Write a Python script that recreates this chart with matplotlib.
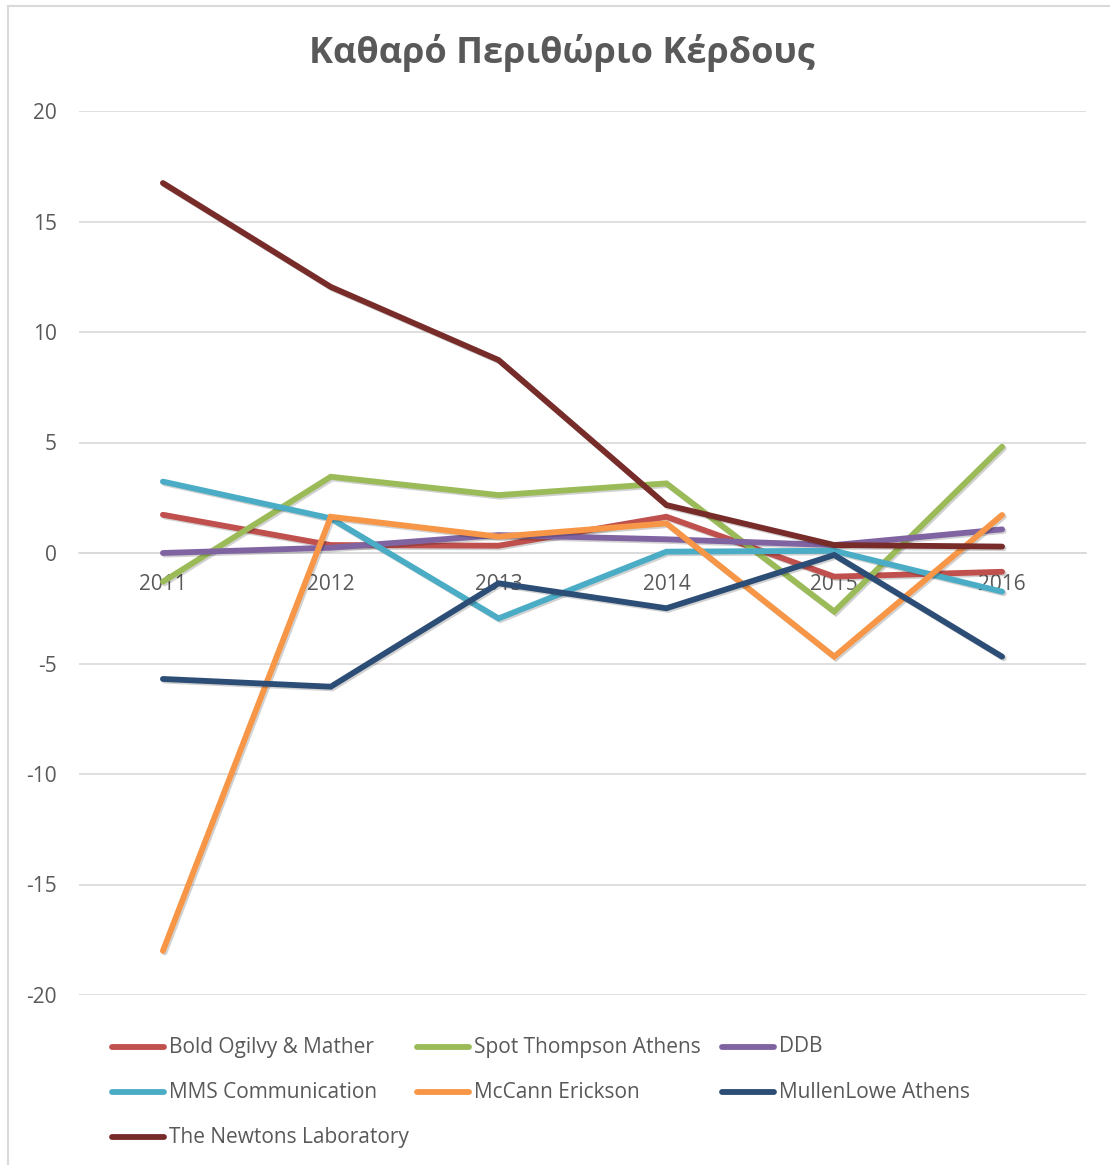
import matplotlib
matplotlib.use("Agg")
import matplotlib.pyplot as plt
from matplotlib.lines import Line2D
import matplotlib.patheffects as pe

plt.rcParams['font.family'] = ['Open Sans', 'DejaVu Sans']
plt.rcParams['axes.unicode_minus'] = False

years = ['2011', '2012', '2013', '2014', '2015', '2016']

bold_ogilvy = [1.73, 0.36, 0.33, 1.64, -1.07, -0.85]
spot_thompson = [-1.3, 3.45, 2.62, 3.15, -2.65, 4.81]
ddb = [0.0, 0.24, 0.81, 0.62, 0.36, 1.07]
mms = [3.23, 1.57, -2.96, 0.06, 0.1, -1.75]
mccann = [-18.0, 1.64, 0.74, 1.34, -4.69, 1.72]
mullenlowe = [-5.7, -6.05, -1.37, -2.5, -0.09, -4.69]
newtons = [16.74, 12.04, 8.73, 2.17, 0.36, 0.29]

names = ['Bold Ogilvy & Mather', 'Spot Thompson Athens', 'DDB',
         'MMS Communication', 'McCann Erickson', 'MullenLowe Athens',
         'The Newtons Laboratory']
series = [bold_ogilvy, spot_thompson, ddb, mms, mccann, mullenlowe, newtons]
colors = ['#C0504D', '#9BBB59', '#8064A2', '#4BACC6', '#F79646',
          '#2C4D75', '#772C2A']

TXT = '#595959'
GRID = '#D9D9D9'
W, H = 1110, 1165

fig = plt.figure(figsize=(W / 100, H / 100), dpi=100)
ax = fig.add_axes([79 / W, 1 - 995 / H, (1086 - 79) / W, (995 - 111) / H])

shadow = [pe.SimpleLineShadow(offset=(1.2, -1.2), shadow_color='black', alpha=0.18),
          pe.Normal()]
x = list(range(len(years)))
for vals, c in zip(series, colors):
    ax.plot(x, vals, color=c, lw=4.2, solid_capstyle='round',
            solid_joinstyle='miter', path_effects=shadow, zorder=3)

ax.set_xlim(-0.5, len(years) - 0.5)
ax.set_ylim(-20, 20)
ax.set_yticks(range(-20, 21, 5))
ax.set_xticks(x)
ax.set_xticklabels(years)
ax.set_axisbelow(True)
ax.grid(axis='y', color=GRID, lw=1.2)
for s in ['top', 'right', 'left']:
    ax.spines[s].set_visible(False)
ax.spines['bottom'].set_position(('data', 0))
ax.spines['bottom'].set_color(GRID)
ax.spines['bottom'].set_linewidth(1.2)
ax.tick_params(axis='both', length=0, labelsize=15, labelcolor=TXT)
ax.tick_params(axis='x', pad=15)
ax.tick_params(axis='y', pad=16)

fig.text(562 / W, 1 - 53 / H, 'Καθαρό Περιθώριο Κέρδους', ha='center', va='center',
         fontsize=26, fontweight='bold', color=TXT)

# legend laid out in rows like the original
for i, (name, c) in enumerate(zip(names, colors)):
    row, col = divmod(i, 3)
    x0 = 112 + col * 305
    y0 = 1 - (1047 + row * 45) / H
    fig.add_artist(Line2D([x0 / W, (x0 + 52) / W], [y0, y0], color=c, lw=4.2,
                          solid_capstyle='round', transform=fig.transFigure))
    fig.text((x0 + 57) / W, y0, name, ha='left', va='center', fontsize=15, color=TXT)

# chart border
fig.add_artist(Line2D([8 / W, 8 / W], [0, 1 - 6 / H], color=GRID, lw=1.5,
                      transform=fig.transFigure))
fig.add_artist(Line2D([8 / W, 1], [1 - 6 / H, 1 - 6 / H], color=GRID, lw=1.5,
                      transform=fig.transFigure))

fig.savefig('out.png', dpi=100, facecolor='white')
